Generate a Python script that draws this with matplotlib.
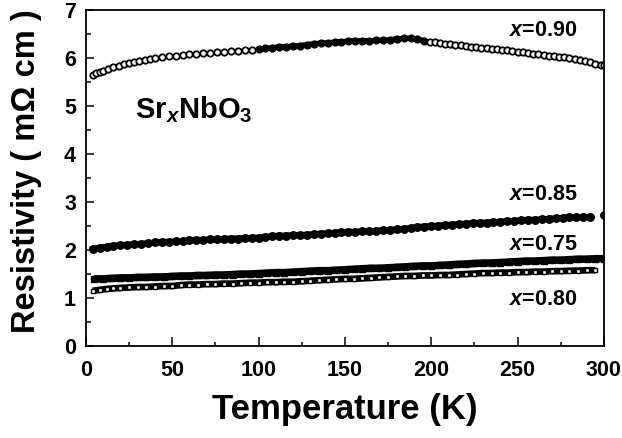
import matplotlib
matplotlib.use("Agg")
import matplotlib.pyplot as plt
import numpy as np

plt.rcParams['font.family'] = ['Liberation Sans', 'DejaVu Sans']
plt.rcParams['font.weight'] = 'bold'
plt.rcParams['mathtext.fontset'] = 'custom'
plt.rcParams['mathtext.rm'] = 'Liberation Sans:bold'
plt.rcParams['mathtext.it'] = 'Liberation Sans:italic:bold'
plt.rcParams['mathtext.bf'] = 'Liberation Sans:bold'

# ---- data ----
T_090 = [4, 6, 8, 10, 13, 16, 19, 22, 25, 28, 31, 34, 37, 40, 44, 48, 52, 56, 60, 64,
         68, 72, 76, 80, 84, 88, 92, 96, 100, 104, 108, 112, 116, 120, 124, 128, 132,
         136, 140, 144, 148, 152, 156, 160, 164, 168, 172, 176, 180, 184, 188, 192,
         196, 199, 202, 205, 208, 211, 214, 217, 220, 223, 226, 229, 232, 235, 238,
         241, 244, 247, 250, 253, 256, 259, 262, 265, 268, 271, 274, 277, 280, 283,
         286, 289, 292, 295, 298, 300]
R_090 = [5.64, 5.68, 5.71, 5.74, 5.78, 5.81, 5.84, 5.87, 5.90, 5.92, 5.94, 5.96, 5.98,
         6.00, 6.02, 6.04, 6.05, 6.07, 6.08, 6.09, 6.10, 6.11, 6.12, 6.13, 6.14, 6.15,
         6.16, 6.17, 6.18, 6.20, 6.22, 6.23, 6.24, 6.25, 6.26, 6.28, 6.30, 6.31, 6.32,
         6.33, 6.34, 6.35, 6.36, 6.36, 6.36, 6.37, 6.37, 6.38, 6.40, 6.41, 6.41, 6.40,
         6.36, 6.34, 6.33, 6.31, 6.30, 6.29, 6.28, 6.27, 6.25, 6.24, 6.23, 6.22, 6.21,
         6.19, 6.18, 6.17, 6.16, 6.15, 6.13, 6.12, 6.10, 6.09, 6.08, 6.06, 6.05, 6.04,
         6.03, 6.02, 6.00, 5.98, 5.96, 5.94, 5.91, 5.88, 5.86, 5.86]

T_085 = [4, 8, 12, 16, 20, 24, 28, 32, 36, 40, 44, 48, 52, 56, 60, 64, 68, 72, 76, 80,
         84, 88, 92, 96, 100, 104, 108, 112, 116, 120, 124, 128, 132, 136, 140, 144,
         148, 152, 156, 160, 164, 168, 172, 176, 180, 184, 188, 192, 196, 200, 204,
         208, 212, 216, 220, 224, 228, 232, 236, 240, 244, 248, 252, 256, 260, 264,
         268, 272, 276, 280, 284, 288, 292, 300]
R_085 = [2.02, 2.05, 2.07, 2.09, 2.10, 2.11, 2.12, 2.13, 2.14, 2.16, 2.17, 2.17, 2.18,
         2.18, 2.20, 2.21, 2.21, 2.22, 2.22, 2.23, 2.24, 2.24, 2.25, 2.25, 2.26, 2.27,
         2.29, 2.30, 2.30, 2.31, 2.31, 2.32, 2.33, 2.34, 2.35, 2.36, 2.37, 2.38, 2.38,
         2.39, 2.39, 2.40, 2.41, 2.42, 2.43, 2.44, 2.46, 2.48, 2.49, 2.50, 2.51, 2.52,
         2.53, 2.54, 2.55, 2.56, 2.57, 2.57, 2.58, 2.59, 2.60, 2.61, 2.62, 2.63, 2.63,
         2.64, 2.65, 2.66, 2.67, 2.68, 2.68, 2.69, 2.69, 2.73]

T_075 = [5, 10, 15, 20, 25, 30, 35, 40, 45, 50, 55, 60, 65, 70, 75, 80, 85, 90, 95, 100,
         105, 110, 115, 120, 125, 130, 135, 140, 145, 150, 155, 160, 165, 170, 175,
         180, 185, 190, 195, 200, 205, 210, 215, 220, 225, 230, 235, 240, 245, 250,
         255, 260, 265, 270, 275, 280, 285, 290, 295, 300]
R_075 = [1.40, 1.40, 1.41, 1.42, 1.42, 1.43, 1.43, 1.44, 1.44, 1.45, 1.46, 1.46, 1.47,
         1.47, 1.48, 1.48, 1.49, 1.50, 1.50, 1.51, 1.52, 1.53, 1.53, 1.54, 1.55, 1.56,
         1.57, 1.57, 1.58, 1.59, 1.60, 1.61, 1.62, 1.62, 1.63, 1.64, 1.65, 1.66, 1.67,
         1.67, 1.68, 1.69, 1.70, 1.71, 1.72, 1.73, 1.73, 1.74, 1.75, 1.76, 1.77, 1.77,
         1.78, 1.79, 1.79, 1.80, 1.81, 1.81, 1.82, 1.82]

T_080 = [4, 8, 12, 16, 20, 25, 30, 35, 40, 45, 50, 55, 60, 65, 70, 75, 80, 85, 90, 95,
         100, 105, 110, 115, 120, 125, 130, 135, 140, 145, 150, 155, 160, 165, 170,
         175, 180, 185, 190, 195, 200, 205, 210, 215, 220, 225, 230, 235, 240, 245,
         250, 255, 260, 265, 270, 275, 280, 285, 290, 295]
R_080 = [1.15, 1.17, 1.19, 1.20, 1.21, 1.22, 1.23, 1.23, 1.24, 1.25, 1.25, 1.27, 1.28,
         1.28, 1.29, 1.29, 1.30, 1.30, 1.31, 1.32, 1.32, 1.33, 1.33, 1.34, 1.34, 1.35,
         1.36, 1.37, 1.38, 1.39, 1.40, 1.40, 1.41, 1.42, 1.43, 1.44, 1.45, 1.46, 1.46,
         1.47, 1.47, 1.48, 1.48, 1.49, 1.50, 1.51, 1.52, 1.52, 1.53, 1.53, 1.54, 1.54,
         1.55, 1.55, 1.56, 1.56, 1.57, 1.57, 1.58, 1.58]

labels = ['$x$=0.90', '$x$=0.85', '$x$=0.75', '$x$=0.80']
label_T = [265, 265, 265, 265]
label_R = [6.58, 3.15, 2.12, 0.97]
x_ticks = [0, 50, 100, 150, 200, 250, 300]
y_ticks = [0, 1, 2, 3, 4, 5, 6, 7]

# ---- figure ----
fig = plt.figure(figsize=(6.22, 4.38), dpi=100)
ax = fig.add_axes([0.138, 0.21, 0.833, 0.767])

# x = 0.90 : open circles, dense middle part fused into a solid band
t90 = np.array(T_090); r90 = np.array(R_090)
m = (t90 >= 100) & (t90 <= 196)
ax.plot(t90[m], r90[m], '-', color='black', lw=3.8, solid_capstyle='butt')
ax.plot(t90[m], r90[m], 'o', ms=4.6, mfc='black', mec='black', mew=1.3, ls='none')
ax.plot(t90[~m], r90[~m], 'o', ms=4.6, mfc='white', mec='black', mew=1.3, ls='none')

# x = 0.85 : filled circles
ax.plot(T_085[:-1], R_085[:-1], '-', color='black', lw=4.4)
ax.plot(T_085, R_085, 'o', ms=5.4, mfc='black', mec='black', ls='none')

# x = 0.75 : filled squares forming a solid band
ax.plot(T_075, R_075, '-', color='black', lw=5.4, solid_capstyle='butt')
ax.plot(T_075, R_075, 's', ms=5.0, mfc='black', mec='black', ls='none')

# x = 0.80 : open squares forming a band with white dots
ax.plot(T_080, R_080, '-', color='black', lw=4.8, solid_capstyle='butt')
ax.plot(T_080, R_080, 's', ms=3.4, mfc='white', mec='black', mew=1.0, ls='none')

for s, tx, ry in zip(labels, label_T, label_R):
    ax.text(tx, ry, s, fontsize=15.5, ha='center', va='center', color='black')

ax.text(28.5, 4.75, r'$\mathrm{Sr}_{x}\mathrm{NbO}_{3}$', fontsize=21,
        ha='left', va='baseline')

ax.set_xlim(0, 300)
ax.set_ylim(0, 7)
ax.set_xticks(x_ticks)
ax.set_xticks([25, 75, 125, 175, 225, 275], minor=True)
ax.set_yticks(y_ticks)
ax.set_yticks([0.5, 1.5, 2.5, 3.5, 4.5, 5.5, 6.5], minor=True)
ax.set_xticklabels([str(v) for v in x_ticks])
ax.set_yticklabels([str(v) for v in y_ticks])

ax.tick_params(axis='both', which='both', direction='in', top=False, right=False,
               width=1.1, labelsize=15.5)
ax.tick_params(axis='x', which='major', length=6.5, pad=10)
ax.tick_params(axis='x', which='minor', length=3)
ax.tick_params(axis='y', which='major', length=6, pad=7)
ax.tick_params(axis='y', which='minor', length=3.5)
for lab in ax.get_xticklabels() + ax.get_yticklabels():
    lab.set_fontweight('bold')

for sp in ax.spines.values():
    sp.set_linewidth(1.3)

ax.set_xlabel('Temperature (K)', fontsize=25, fontweight='bold')
ax.set_ylabel('Resistivity ( m\u03a9 cm )', fontsize=23.5, fontweight='bold')
ax.xaxis.set_label_coords(0.5, -0.14)
ax.yaxis.set_label_coords(-0.085, 0.52)
ax.xaxis.label.set_va('top')

fig.savefig('out.png', dpi=100)
